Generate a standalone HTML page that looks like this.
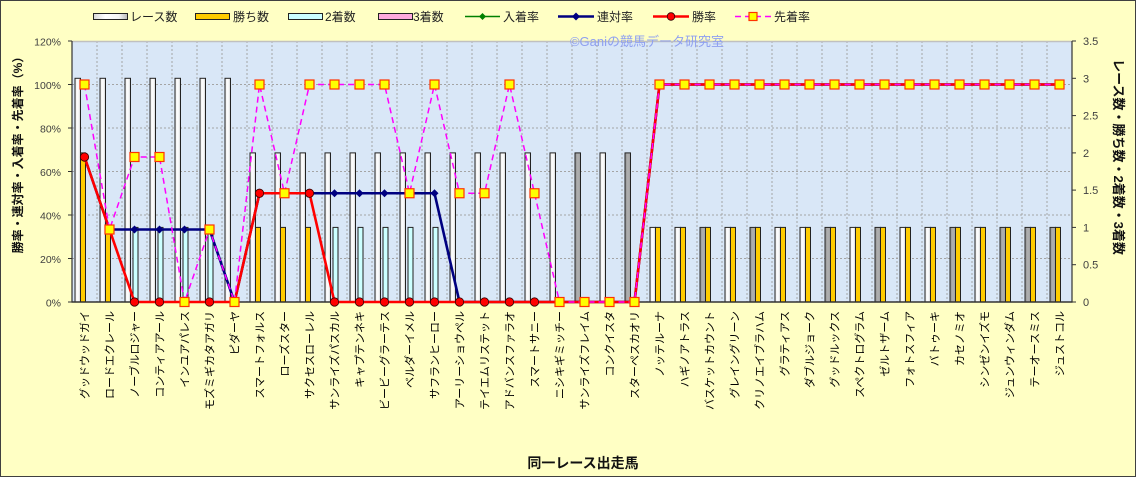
<!DOCTYPE html>
<html><head><meta charset="utf-8"><style>
html,body{margin:0;padding:0;background:#ffffc4;}
svg{display:block;font-family:"Liberation Sans","Noto Sans CJK JP",sans-serif;}
</style></head><body>
<svg width="1136" height="477" viewBox="0 0 1136 477" xmlns="http://www.w3.org/2000/svg">
<defs>
<linearGradient id="gw" x1="0" y1="0" x2="1" y2="0"><stop offset="0" stop-color="#d8d8d8"/><stop offset="0.35" stop-color="#ffffff"/><stop offset="0.75" stop-color="#f4f4f4"/><stop offset="1" stop-color="#b8b8b8"/></linearGradient>
<linearGradient id="gg" x1="0" y1="0" x2="1" y2="0"><stop offset="0" stop-color="#909090"/><stop offset="0.5" stop-color="#b0b0b0"/><stop offset="1" stop-color="#a0a0a0"/></linearGradient>
</defs>
<rect x="0.5" y="0.5" width="1135" height="476" fill="#ffffc4" stroke="#404040"/>
<!-- plot area -->
<rect x="72" y="41" width="1000" height="261" fill="#d9e7f7"/>
<g stroke="#a4a4a4" stroke-width="1" stroke-dasharray="2,2">
<line x1="72" y1="84.5" x2="1072" y2="84.5"/><line x1="72" y1="128" x2="1072" y2="128"/><line x1="72" y1="171.5" x2="1072" y2="171.5"/><line x1="72" y1="215" x2="1072" y2="215"/><line x1="72" y1="258.5" x2="1072" y2="258.5"/>
<line x1="97" y1="41" x2="97" y2="302"/><line x1="122" y1="41" x2="122" y2="302"/><line x1="147" y1="41" x2="147" y2="302"/><line x1="172" y1="41" x2="172" y2="302"/><line x1="197" y1="41" x2="197" y2="302"/><line x1="222" y1="41" x2="222" y2="302"/><line x1="247" y1="41" x2="247" y2="302"/><line x1="272" y1="41" x2="272" y2="302"/><line x1="297" y1="41" x2="297" y2="302"/><line x1="322" y1="41" x2="322" y2="302"/><line x1="347" y1="41" x2="347" y2="302"/><line x1="372" y1="41" x2="372" y2="302"/><line x1="397" y1="41" x2="397" y2="302"/><line x1="422" y1="41" x2="422" y2="302"/><line x1="447" y1="41" x2="447" y2="302"/><line x1="472" y1="41" x2="472" y2="302"/><line x1="497" y1="41" x2="497" y2="302"/><line x1="522" y1="41" x2="522" y2="302"/><line x1="547" y1="41" x2="547" y2="302"/><line x1="572" y1="41" x2="572" y2="302"/><line x1="597" y1="41" x2="597" y2="302"/><line x1="622" y1="41" x2="622" y2="302"/><line x1="647" y1="41" x2="647" y2="302"/><line x1="672" y1="41" x2="672" y2="302"/><line x1="697" y1="41" x2="697" y2="302"/><line x1="722" y1="41" x2="722" y2="302"/><line x1="747" y1="41" x2="747" y2="302"/><line x1="772" y1="41" x2="772" y2="302"/><line x1="797" y1="41" x2="797" y2="302"/><line x1="822" y1="41" x2="822" y2="302"/><line x1="847" y1="41" x2="847" y2="302"/><line x1="872" y1="41" x2="872" y2="302"/><line x1="897" y1="41" x2="897" y2="302"/><line x1="922" y1="41" x2="922" y2="302"/><line x1="947" y1="41" x2="947" y2="302"/><line x1="972" y1="41" x2="972" y2="302"/><line x1="997" y1="41" x2="997" y2="302"/><line x1="1022" y1="41" x2="1022" y2="302"/><line x1="1047" y1="41" x2="1047" y2="302"/>
</g>
<line x1="72" y1="41.5" x2="1072" y2="41.5" stroke="#c0c0c0" stroke-width="1.5"/>
<!-- race count bars -->
<g stroke="#222" stroke-width="1" fill="url(#gw)">
<rect x="75" y="78.3" width="5.5" height="223.7"/><rect x="100" y="78.3" width="5.5" height="223.7"/><rect x="125" y="78.3" width="5.5" height="223.7"/><rect x="150" y="78.3" width="5.5" height="223.7"/><rect x="175" y="78.3" width="5.5" height="223.7"/><rect x="200" y="78.3" width="5.5" height="223.7"/><rect x="225" y="78.3" width="5.5" height="223.7"/>
<rect x="250" y="152.9" width="5.5" height="149.1"/><rect x="275" y="152.9" width="5.5" height="149.1"/><rect x="300" y="152.9" width="5.5" height="149.1"/><rect x="325" y="152.9" width="5.5" height="149.1"/><rect x="350" y="152.9" width="5.5" height="149.1"/><rect x="375" y="152.9" width="5.5" height="149.1"/><rect x="400" y="152.9" width="5.5" height="149.1"/><rect x="425" y="152.9" width="5.5" height="149.1"/><rect x="450" y="152.9" width="5.5" height="149.1"/><rect x="475" y="152.9" width="5.5" height="149.1"/><rect x="500" y="152.9" width="5.5" height="149.1"/><rect x="525" y="152.9" width="5.5" height="149.1"/><rect x="550" y="152.9" width="5.5" height="149.1"/><rect x="575" y="152.9" width="5.5" height="149.1" fill="url(#gg)"/><rect x="600" y="152.9" width="5.5" height="149.1"/><rect x="625" y="152.9" width="5.5" height="149.1" fill="url(#gg)"/>
<rect x="650" y="227.4" width="5.5" height="74.6"/><rect x="675" y="227.4" width="5.5" height="74.6"/><rect x="700" y="227.4" width="5.5" height="74.6" fill="url(#gg)"/><rect x="725" y="227.4" width="5.5" height="74.6"/><rect x="750" y="227.4" width="5.5" height="74.6" fill="url(#gg)"/><rect x="775" y="227.4" width="5.5" height="74.6"/><rect x="800" y="227.4" width="5.5" height="74.6"/><rect x="825" y="227.4" width="5.5" height="74.6" fill="url(#gg)"/><rect x="850" y="227.4" width="5.5" height="74.6"/><rect x="875" y="227.4" width="5.5" height="74.6" fill="url(#gg)"/><rect x="900" y="227.4" width="5.5" height="74.6"/><rect x="925" y="227.4" width="5.5" height="74.6"/><rect x="950" y="227.4" width="5.5" height="74.6" fill="url(#gg)"/><rect x="975" y="227.4" width="5.5" height="74.6"/><rect x="1000" y="227.4" width="5.5" height="74.6" fill="url(#gg)"/><rect x="1025" y="227.4" width="5.5" height="74.6" fill="url(#gg)"/><rect x="1050" y="227.4" width="5.5" height="74.6" fill="url(#gg)"/>
</g>
<!-- wins bars -->
<g stroke="#222" stroke-width="1" fill="#ffcc00">
<rect x="80.5" y="152.9" width="5" height="149.1"/><rect x="105.5" y="227.4" width="5" height="74.6"/><rect x="255.5" y="227.4" width="5" height="74.6"/><rect x="280.5" y="227.4" width="5" height="74.6"/><rect x="305.5" y="227.4" width="5" height="74.6"/>
<rect x="655.5" y="227.4" width="5" height="74.6"/><rect x="680.5" y="227.4" width="5" height="74.6"/><rect x="705.5" y="227.4" width="5" height="74.6"/><rect x="730.5" y="227.4" width="5" height="74.6"/><rect x="755.5" y="227.4" width="5" height="74.6"/><rect x="780.5" y="227.4" width="5" height="74.6"/><rect x="805.5" y="227.4" width="5" height="74.6"/><rect x="830.5" y="227.4" width="5" height="74.6"/><rect x="855.5" y="227.4" width="5" height="74.6"/><rect x="880.5" y="227.4" width="5" height="74.6"/><rect x="905.5" y="227.4" width="5" height="74.6"/><rect x="930.5" y="227.4" width="5" height="74.6"/><rect x="955.5" y="227.4" width="5" height="74.6"/><rect x="980.5" y="227.4" width="5" height="74.6"/><rect x="1005.5" y="227.4" width="5" height="74.6"/><rect x="1030.5" y="227.4" width="5" height="74.6"/><rect x="1055.5" y="227.4" width="5" height="74.6"/>
</g>
<!-- 2nd bars -->
<g stroke="#222" stroke-width="1" fill="#ccffff">
<rect x="133" y="227.4" width="5" height="74.6"/><rect x="158" y="227.4" width="5" height="74.6"/><rect x="183" y="227.4" width="5" height="74.6"/><rect x="208" y="227.4" width="5" height="74.6"/>
<rect x="333" y="227.4" width="5" height="74.6"/><rect x="358" y="227.4" width="5" height="74.6"/><rect x="383" y="227.4" width="5" height="74.6"/><rect x="408" y="227.4" width="5" height="74.6"/><rect x="433" y="227.4" width="5" height="74.6"/>
</g>
<!-- axes -->
<line x1="72" y1="41" x2="72" y2="302.5" stroke="#333" stroke-width="1.2"/>
<line x1="1072" y1="41" x2="1072" y2="302.5" stroke="#333" stroke-width="1.2"/>
<line x1="71.5" y1="302" x2="1072.5" y2="302" stroke="#333" stroke-width="1.5"/>
<g stroke="#333" stroke-width="1">
<line x1="68" y1="41" x2="72" y2="41"/><line x1="68" y1="84.5" x2="72" y2="84.5"/><line x1="68" y1="128" x2="72" y2="128"/><line x1="68" y1="171.5" x2="72" y2="171.5"/><line x1="68" y1="215" x2="72" y2="215"/><line x1="68" y1="258.5" x2="72" y2="258.5"/><line x1="68" y1="302" x2="72" y2="302"/>
<line x1="1072" y1="41" x2="1076" y2="41"/><line x1="1072" y1="78.3" x2="1076" y2="78.3"/><line x1="1072" y1="115.6" x2="1076" y2="115.6"/><line x1="1072" y1="152.9" x2="1076" y2="152.9"/><line x1="1072" y1="190.1" x2="1076" y2="190.1"/><line x1="1072" y1="227.4" x2="1076" y2="227.4"/><line x1="1072" y1="264.7" x2="1076" y2="264.7"/><line x1="1072" y1="302" x2="1076" y2="302"/>
</g>
<!-- watermark -->
<text x="647" y="46" font-size="13" fill="#8fa0f0" text-anchor="middle">©Ganiの競馬データ研究室</text>
<!-- green line (入着率) -->
<polyline fill="none" stroke="#008000" stroke-width="1.5" points="84.5,157 109.5,229.5 209.5,229.5 234.5,302 259.5,193.25 434.5,193.25 459.5,302 634.5,302 659.5,84.5 1059.5,84.5"/>
<g fill="#008000">
<polygon points="659.5,80.5 663.5,84.5 659.5,88.5 655.5,84.5"/><polygon points="684.5,80.5 688.5,84.5 684.5,88.5 680.5,84.5"/><polygon points="709.5,80.5 713.5,84.5 709.5,88.5 705.5,84.5"/><polygon points="734.5,80.5 738.5,84.5 734.5,88.5 730.5,84.5"/><polygon points="759.5,80.5 763.5,84.5 759.5,88.5 755.5,84.5"/><polygon points="784.5,80.5 788.5,84.5 784.5,88.5 780.5,84.5"/><polygon points="809.5,80.5 813.5,84.5 809.5,88.5 805.5,84.5"/><polygon points="834.5,80.5 838.5,84.5 834.5,88.5 830.5,84.5"/><polygon points="859.5,80.5 863.5,84.5 859.5,88.5 855.5,84.5"/><polygon points="884.5,80.5 888.5,84.5 884.5,88.5 880.5,84.5"/><polygon points="909.5,80.5 913.5,84.5 909.5,88.5 905.5,84.5"/><polygon points="934.5,80.5 938.5,84.5 934.5,88.5 930.5,84.5"/><polygon points="959.5,80.5 963.5,84.5 959.5,88.5 955.5,84.5"/><polygon points="984.5,80.5 988.5,84.5 984.5,88.5 980.5,84.5"/><polygon points="1009.5,80.5 1013.5,84.5 1009.5,88.5 1005.5,84.5"/><polygon points="1034.5,80.5 1038.5,84.5 1034.5,88.5 1030.5,84.5"/><polygon points="1059.5,80.5 1063.5,84.5 1059.5,88.5 1055.5,84.5"/>
<polygon points="84.5,152.5 89,157 84.5,161.5 80,157"/>
</g>
<!-- navy line (連対率) -->
<polyline fill="none" stroke="#000080" stroke-width="2.6" points="84.5,157 109.5,229.5 209.5,229.5 234.5,302 259.5,193.25 434.5,193.25 459.5,302 634.5,302 659.5,84.5 1059.5,84.5"/>
<g fill="#000080">
<polygon points="109.5,225.5 113.5,229.5 109.5,233.5 105.5,229.5"/><polygon points="134.5,225.5 138.5,229.5 134.5,233.5 130.5,229.5"/><polygon points="159.5,225.5 163.5,229.5 159.5,233.5 155.5,229.5"/><polygon points="184.5,225.5 188.5,229.5 184.5,233.5 180.5,229.5"/><polygon points="209.5,225.5 213.5,229.5 209.5,233.5 205.5,229.5"/>
<polygon points="259.5,189.25 263.5,193.25 259.5,197.25 255.5,193.25"/><polygon points="284.5,189.25 288.5,193.25 284.5,197.25 280.5,193.25"/><polygon points="309.5,189.25 313.5,193.25 309.5,197.25 305.5,193.25"/><polygon points="334.5,189.25 338.5,193.25 334.5,197.25 330.5,193.25"/><polygon points="359.5,189.25 363.5,193.25 359.5,197.25 355.5,193.25"/><polygon points="384.5,189.25 388.5,193.25 384.5,197.25 380.5,193.25"/><polygon points="409.5,189.25 413.5,193.25 409.5,197.25 405.5,193.25"/><polygon points="434.5,189.25 438.5,193.25 434.5,197.25 430.5,193.25"/>
</g>
<!-- red line (勝率) -->
<polyline fill="none" stroke="#ff0000" stroke-width="2.6" points="84.5,157 109.5,229.5 134.5,302 234.5,302 259.5,193.25 309.5,193.25 334.5,302 634.5,302 659.5,84.5 1059.5,84.5"/>
<g fill="#ff0000" stroke="#300" stroke-width="0.8">
<circle cx="84.5" cy="157" r="4.2"/><circle cx="109.5" cy="229.5" r="4.2"/><circle cx="134.5" cy="302" r="4.2"/><circle cx="159.5" cy="302" r="4.2"/><circle cx="184.5" cy="302" r="4.2"/><circle cx="209.5" cy="302" r="4.2"/><circle cx="234.5" cy="302" r="4.2"/>
<circle cx="259.5" cy="193.25" r="4.2"/><circle cx="284.5" cy="193.25" r="4.2"/><circle cx="309.5" cy="193.25" r="4.2"/>
<circle cx="334.5" cy="302" r="4.2"/><circle cx="359.5" cy="302" r="4.2"/><circle cx="384.5" cy="302" r="4.2"/><circle cx="409.5" cy="302" r="4.2"/><circle cx="434.5" cy="302" r="4.2"/><circle cx="459.5" cy="302" r="4.2"/><circle cx="484.5" cy="302" r="4.2"/><circle cx="509.5" cy="302" r="4.2"/><circle cx="534.5" cy="302" r="4.2"/><circle cx="559.5" cy="302" r="4.2"/><circle cx="584.5" cy="302" r="4.2"/><circle cx="609.5" cy="302" r="4.2"/><circle cx="634.5" cy="302" r="4.2"/>
</g>
<!-- pink dashed (先着率) -->
<polyline fill="none" stroke="#ff00ff" stroke-width="1.5" stroke-dasharray="6,4" points="84.5,84.5 109.5,229.5 134.5,157 159.5,157 184.5,302 209.5,229.5 234.5,302 259.5,84.5 284.5,193.25 309.5,84.5 384.5,84.5 409.5,193.25 434.5,84.5 459.5,193.25 484.5,193.25 509.5,84.5 534.5,193.25 559.5,302 634.5,302 659.5,84.5 1059.5,84.5"/>
<g fill="#ffff00" stroke="#ff3300" stroke-width="1.2">
<rect x="80" y="80" width="9" height="9"/><rect x="105" y="225" width="9" height="9"/><rect x="130" y="152.5" width="9" height="9"/><rect x="155" y="152.5" width="9" height="9"/><rect x="180" y="297.5" width="9" height="9"/><rect x="205" y="225" width="9" height="9"/><rect x="230" y="297.5" width="9" height="9"/>
<rect x="255" y="80" width="9" height="9"/><rect x="280" y="188.75" width="9" height="9"/><rect x="305" y="80" width="9" height="9"/><rect x="330" y="80" width="9" height="9"/><rect x="355" y="80" width="9" height="9"/><rect x="380" y="80" width="9" height="9"/><rect x="405" y="188.75" width="9" height="9"/><rect x="430" y="80" width="9" height="9"/><rect x="455" y="188.75" width="9" height="9"/><rect x="480" y="188.75" width="9" height="9"/><rect x="505" y="80" width="9" height="9"/><rect x="530" y="188.75" width="9" height="9"/>
<rect x="555" y="297.5" width="9" height="9"/><rect x="580" y="297.5" width="9" height="9"/><rect x="605" y="297.5" width="9" height="9"/><rect x="630" y="297.5" width="9" height="9"/>
<rect x="655" y="80" width="9" height="9"/><rect x="680" y="80" width="9" height="9"/><rect x="705" y="80" width="9" height="9"/><rect x="730" y="80" width="9" height="9"/><rect x="755" y="80" width="9" height="9"/><rect x="780" y="80" width="9" height="9"/><rect x="805" y="80" width="9" height="9"/><rect x="830" y="80" width="9" height="9"/><rect x="855" y="80" width="9" height="9"/><rect x="880" y="80" width="9" height="9"/><rect x="905" y="80" width="9" height="9"/><rect x="930" y="80" width="9" height="9"/><rect x="955" y="80" width="9" height="9"/><rect x="980" y="80" width="9" height="9"/><rect x="1005" y="80" width="9" height="9"/><rect x="1030" y="80" width="9" height="9"/><rect x="1055" y="80" width="9" height="9"/>
</g>
<!-- left axis labels -->
<g font-size="10.5" fill="#404040" text-anchor="end">
<text x="61" y="45.5">120%</text><text x="61" y="89">100%</text><text x="61" y="132.5">80%</text><text x="61" y="176">60%</text><text x="61" y="219.5">40%</text><text x="61" y="263">20%</text><text x="61" y="306.5">0%</text>
</g>
<!-- right axis labels -->
<g font-size="11" fill="#404040">
<text x="1083" y="45">3.5</text><text x="1083" y="82.3">3</text><text x="1083" y="119.6">2.5</text><text x="1083" y="156.9">2</text><text x="1083" y="194.1">1.5</text><text x="1083" y="231.4">1</text><text x="1083" y="268.7">0.5</text><text x="1083" y="306">0</text>
</g>
<!-- axis titles -->
<text transform="translate(22,152) rotate(-90)" font-size="12" font-weight="bold" fill="#111" text-anchor="middle">勝率・連対率・入着率・先着率（%）</text>
<text transform="translate(1114,157) rotate(90)" font-size="13" font-weight="bold" fill="#111" text-anchor="middle">レース数・勝ち数・2着数・3着数</text>
<text x="583" y="468" font-size="14" font-weight="bold" fill="#111" text-anchor="middle">同一レース出走馬</text>
<!-- category labels -->
<g font-size="11" fill="#000" text-anchor="end">
<text transform="translate(88.5,311) rotate(-90)">グッドウッドガイ</text>
<text transform="translate(113.5,311) rotate(-90)">ロードエクレール</text>
<text transform="translate(138.5,311) rotate(-90)">ノーブルロジャー</text>
<text transform="translate(163.5,311) rotate(-90)">コンティアアール</text>
<text transform="translate(188.5,311) rotate(-90)">インユアパレス</text>
<text transform="translate(213.5,311) rotate(-90)">モズミギカタアガリ</text>
<text transform="translate(238.5,311) rotate(-90)">ピダーヤ</text>
<text transform="translate(263.5,311) rotate(-90)">スマートフォルス</text>
<text transform="translate(288.5,311) rotate(-90)">ローズスター</text>
<text transform="translate(313.5,311) rotate(-90)">サクセスローレル</text>
<text transform="translate(338.5,311) rotate(-90)">サンライズパスカル</text>
<text transform="translate(363.5,311) rotate(-90)">キャプテンネキ</text>
<text transform="translate(388.5,311) rotate(-90)">ビービーグラーテス</text>
<text transform="translate(413.5,311) rotate(-90)">ベルダーイメル</text>
<text transform="translate(438.5,311) rotate(-90)">サフランヒーロー</text>
<text transform="translate(463.5,311) rotate(-90)">アーリーショウペル</text>
<text transform="translate(488.5,311) rotate(-90)">テイエムリステット</text>
<text transform="translate(513.5,311) rotate(-90)">アドバンスファラオ</text>
<text transform="translate(538.5,311) rotate(-90)">スマートサニー</text>
<text transform="translate(563.5,311) rotate(-90)">ニシキギミッチー</text>
<text transform="translate(588.5,311) rotate(-90)">サンライズフレイム</text>
<text transform="translate(613.5,311) rotate(-90)">コンクイスタ</text>
<text transform="translate(638.5,311) rotate(-90)">スターペスカオリ</text>
<text transform="translate(663.5,311) rotate(-90)">ノッテルーナ</text>
<text transform="translate(688.5,311) rotate(-90)">ハギノアトラス</text>
<text transform="translate(713.5,311) rotate(-90)">バスケットカウント</text>
<text transform="translate(738.5,311) rotate(-90)">グレイングリーン</text>
<text transform="translate(763.5,311) rotate(-90)">クリノエイブラハム</text>
<text transform="translate(788.5,311) rotate(-90)">グラティアス</text>
<text transform="translate(813.5,311) rotate(-90)">ダブルジョーク</text>
<text transform="translate(838.5,311) rotate(-90)">グッドルックス</text>
<text transform="translate(863.5,311) rotate(-90)">スペクトログラム</text>
<text transform="translate(888.5,311) rotate(-90)">ゼルトザーム</text>
<text transform="translate(913.5,311) rotate(-90)">フォトスフィア</text>
<text transform="translate(938.5,311) rotate(-90)">バトゥーキ</text>
<text transform="translate(963.5,311) rotate(-90)">カセノミオ</text>
<text transform="translate(988.5,311) rotate(-90)">シンゼンイズモ</text>
<text transform="translate(1013.5,311) rotate(-90)">ジュンウィンダム</text>
<text transform="translate(1038.5,311) rotate(-90)">テーオースミス</text>
<text transform="translate(1063.5,311) rotate(-90)">ジュストコル</text>
</g>
<!-- legend -->
<g stroke="#222" stroke-width="1">
<rect x="93.5" y="13.5" width="34" height="6" fill="url(#gw)"/>
<rect x="195.5" y="13.5" width="34" height="6" fill="#ffcc00"/>
<rect x="288.5" y="13.5" width="34" height="6" fill="#ccffff"/>
<rect x="378.5" y="13.5" width="34" height="6" fill="#ffaadd"/>
</g>
<line x1="465" y1="16.5" x2="500" y2="16.5" stroke="#008000" stroke-width="1.5"/>
<polygon points="482.5,13 486,16.5 482.5,20 479,16.5" fill="#008000"/>
<line x1="558" y1="16.5" x2="594" y2="16.5" stroke="#000080" stroke-width="2.6"/>
<polygon points="576,12.5 580,16.5 576,20.5 572,16.5" fill="#000080"/>
<line x1="653" y1="16.5" x2="689" y2="16.5" stroke="#ff0000" stroke-width="2.6"/>
<circle cx="671" cy="16.5" r="3.8" fill="#ff0000" stroke="#300" stroke-width="0.8"/>
<line x1="735" y1="16.5" x2="771" y2="16.5" stroke="#ff00ff" stroke-width="1.5" stroke-dasharray="6,4"/>
<rect x="749" y="12.5" width="8" height="8" fill="#ffff00" stroke="#ff3300" stroke-width="1.2"/>
<g font-size="12" fill="#222">
<text x="130" y="21">レース数</text>
<text x="233" y="21">勝ち数</text>
<text x="325" y="21">2着数</text>
<text x="413" y="21">3着数</text>
<text x="503" y="21">入着率</text>
<text x="597" y="21">連対率</text>
<text x="692" y="21">勝率</text>
<text x="774" y="21">先着率</text>
</g>
</svg>
</body></html>
